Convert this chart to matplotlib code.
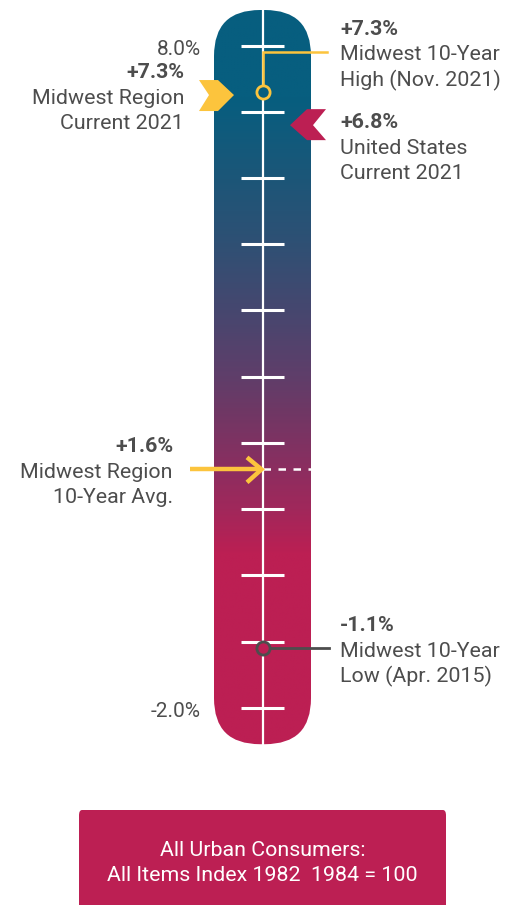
import matplotlib
matplotlib.use("Agg")
import matplotlib.pyplot as plt
import numpy as np
from matplotlib.colors import LinearSegmentedColormap
from matplotlib.patches import FancyBboxPatch, Polygon

plt.rcParams["font.family"] = ["Roboto", "DejaVu Sans"]

# scale, in percent
SCALE_TICKS = [8, 7, 6, 5, 4, 3, 2, 1, 0, -1, -2]
SCALE_LABELS = {8: "8.0%", -2: "-2.0%"}

MIDWEST_CURRENT = 7.3
US_CURRENT = 6.8
MIDWEST_HIGH = 7.3
MIDWEST_LOW = -1.1
MIDWEST_AVG = 1.6

MIDWEST_CURRENT_LABEL = ["Midwest Region", "Current 2021"]
US_CURRENT_LABEL = ["United States", "Current 2021"]
HIGH_LABEL = ["Midwest 10-Year", "High (Nov. 2021)"]
LOW_LABEL = ["Midwest 10-Year", "Low (Apr. 2015)"]
AVG_LABEL = ["Midwest Region", "10-Year Avg."]
FOOTNOTE = ["All Urban Consumers:", "All Items Index 1982  1984 = 100"]

W, H = 516, 905
PX_PER_PCT = 66.2          # vertical pixels per percentage point
TOP_PCT = 8 + 45.7 / PX_PER_PCT
TEXT = "#4d4d4d"
YELLOW = "#fcc43d"
MAGENTA = "#bc1f53"
TEAL = "#075e7f"
FS = 15.4


def dy(px):
    """Vertical pixel distance expressed in percent units."""
    return px / PX_PER_PCT


fig = plt.figure(figsize=(W / 100, H / 100), dpi=100)
ax = fig.add_axes([0, 0, 1, 1])
ax.set_xlim(0, W)
ax.set_ylim(TOP_PCT - dy(H), TOP_PCT)
ax.axis("off")

# thermometer tube with vertical gradient
x0, x1 = 214, 311
xc = (x0 + x1) / 2
tube_top = 8 + dy(35.7)
tube_bot = -2 - dy(36.5)
tube = FancyBboxPatch((x0, tube_bot), x1 - x0, tube_top - tube_bot,
                      boxstyle="round,pad=0,rounding_size=46",
                      mutation_aspect=1 / PX_PER_PCT,
                      facecolor="none", edgecolor="none")
ax.add_patch(tube)

stops = [(-2.6, MAGENTA), (0.3, MAGENTA), (1.0, "#a0285b"), (1.6, "#8b2e60"),
         (2.5, "#6e3865"), (3.0, "#5f3e6a"), (4.0, "#46476f"), (5.0, "#2f5074"),
         (6.0, "#1c5678"), (7.2, TEAL), (8.6, TEAL)]
lo, hi = stops[0][0], stops[-1][0]
cmap = LinearSegmentedColormap.from_list(
    "tube", [((v - lo) / (hi - lo), c) for v, c in stops])
grad = np.linspace(lo, hi, 400).reshape(-1, 1)
im = ax.imshow(grad, cmap=cmap, aspect="auto", origin="lower",
               extent=[x0, x1, lo, hi], interpolation="bilinear", zorder=1)
im.set_clip_path(tube)

ax.plot([xc, xc], [tube_bot, tube_top], color="white", lw=1.6, zorder=2)
for t in SCALE_TICKS:
    ax.plot([241, 284], [t, t], color="white", lw=2.2, zorder=2,
            solid_capstyle="butt")
for t, lab in SCALE_LABELS.items():
    ax.text(201, t - dy(3.5), lab, ha="right", va="center", fontsize=FS - 0.4,
            color=TEXT)


def label_block(x, y_mid, value, lines, ha):
    step = dy(25.5)
    y_mid = y_mid - dy(3)
    ax.text(x, y_mid + step, value, ha=ha, va="center", fontsize=FS,
            fontweight="bold", color=TEXT)
    for i, line in enumerate(lines):
        ax.text(x, y_mid - i * step, line, ha=ha, va="center", fontsize=FS,
                color=TEXT)


# Midwest current: yellow chevron pointing right
cy = MIDWEST_CURRENT - dy(3)
chev = [(199, 16), (218, 16), (234, 0), (218, -15), (199, -15), (209, 0)]
ax.add_patch(Polygon([(x, cy + dy(-y)) for x, y in chev], closed=True,
                     facecolor=YELLOW, edgecolor="none", zorder=3))
label_block(184, cy, f"+{MIDWEST_CURRENT}%", MIDWEST_CURRENT_LABEL, "right")

# United States current: magenta chevron pointing left
uy = US_CURRENT
chev = [(290, 0), (307, 15), (326, 15), (313, 0), (326, -16), (307, -16)]
ax.add_patch(Polygon([(x, uy + dy(-y)) for x, y in chev], closed=True,
                     facecolor=MAGENTA, edgecolor="none", zorder=3))
label_block(340, uy - dy(20), f"+{US_CURRENT}%", US_CURRENT_LABEL, "left")

# 10-year high marker and leader
hy = 8 - dy(6.3)
ax.plot([xc, xc, 327], [MIDWEST_HIGH, hy, hy], color=YELLOW, lw=1.8,
        zorder=3, solid_joinstyle="miter")
ax.plot([xc], [MIDWEST_HIGH], marker="o", ms=9.5, mfc=TEAL, mec=YELLOW,
        mew=2, zorder=4)
label_block(340, hy, f"+{MIDWEST_HIGH}%", HIGH_LABEL, "left")

# 10-year low marker and leader
ax.plot([xc, 329], [MIDWEST_LOW, MIDWEST_LOW], color=TEXT, lw=2, zorder=3)
ax.plot([xc], [MIDWEST_LOW], marker="o", ms=9.5, mfc=MAGENTA, mec=TEXT,
        mew=2, zorder=4)
label_block(340, MIDWEST_LOW, f"{MIDWEST_LOW}%", LOW_LABEL, "left")

# 10-year average: dashed line and yellow arrow
ax.plot([xc, x1], [MIDWEST_AVG, MIDWEST_AVG], color="white", lw=1.8,
        dashes=(3, 3), zorder=2)
ax.plot([190, xc - 2], [MIDWEST_AVG, MIDWEST_AVG], color=YELLOW, lw=3.2,
        solid_capstyle="butt", zorder=3)
ax.plot([247, xc - 1, 247], [MIDWEST_AVG + dy(12), MIDWEST_AVG, MIDWEST_AVG - dy(13)],
        color=YELLOW, lw=3.2, solid_joinstyle="miter", solid_capstyle="butt",
        zorder=3)
label_block(173, MIDWEST_AVG, f"+{MIDWEST_AVG}%", AVG_LABEL, "right")

# footnote box
box = FancyBboxPatch((79 / W, -0.05), (446 - 79) / W, 0.05 + (H - 810) / H,
                     boxstyle="round,pad=0,rounding_size=0.006",
                     transform=fig.transFigure, facecolor=MAGENTA,
                     edgecolor="none")
fig.patches.append(box)
for i, line in enumerate(FOOTNOTE):
    fig.text(262.5 / W, 1 - (850 + 25 * i) / H, line, ha="center", va="center",
             fontsize=FS, color="white")

fig.savefig("out.png", dpi=100, facecolor="white")
